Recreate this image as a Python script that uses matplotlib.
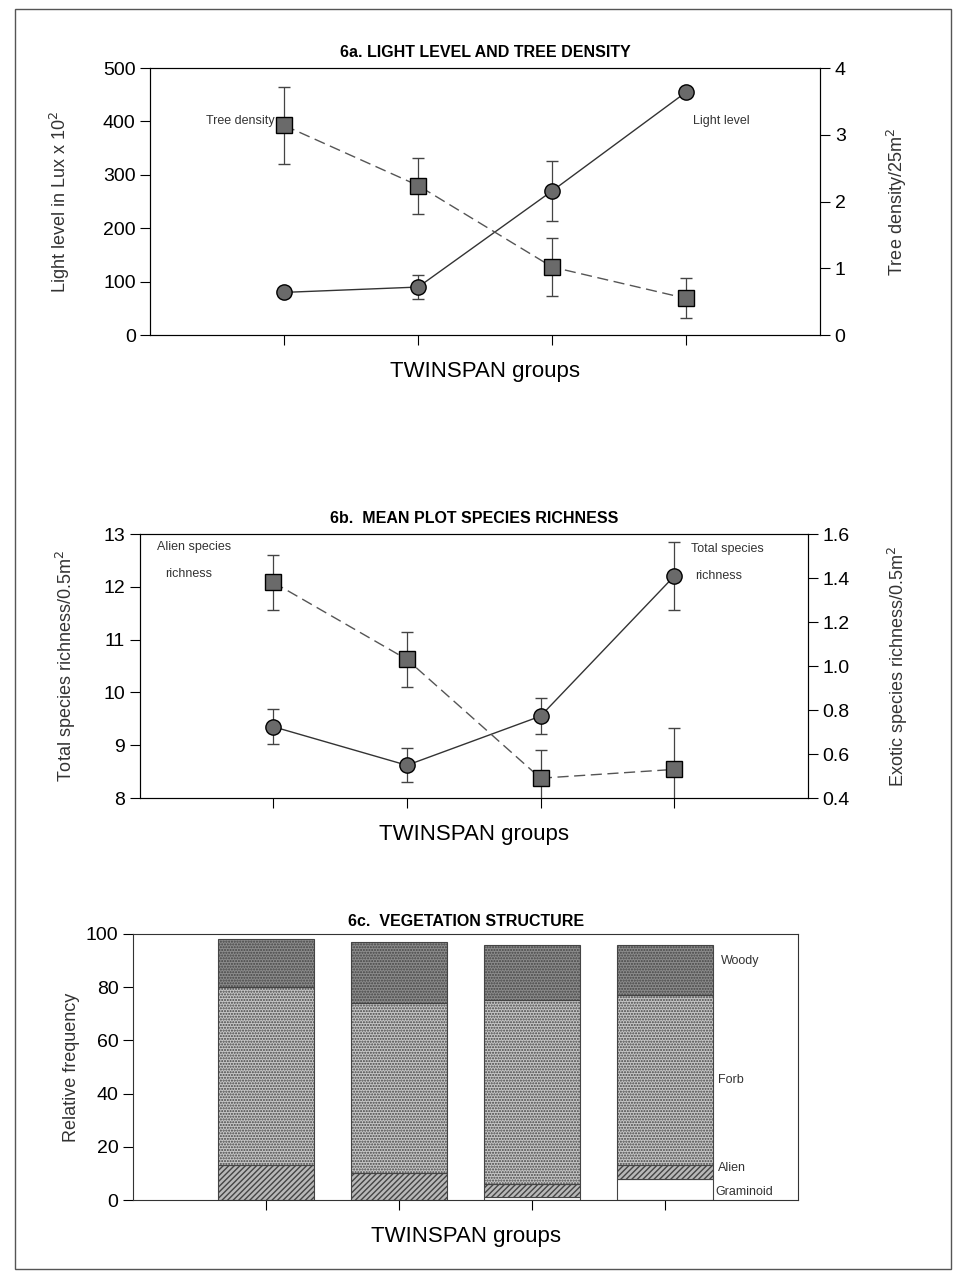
import matplotlib
matplotlib.use("Agg")
import matplotlib.pyplot as plt
from matplotlib.patches import Rectangle

plt.rcParams['font.family'] = ['Liberation Sans', 'DejaVu Sans']
plt.rcParams['hatch.color'] = '#777777'

# data
groups = [1, 2, 3, 4]

light_level = [80, 90, 270, 455]
light_err = [0, 23, 56, 0]
tree_density = [3.14, 2.24, 1.02, 0.55]
tree_err = [0.58, 0.42, 0.44, 0.30]

total_rich = [9.35, 8.62, 9.55, 12.2]
total_err = [0.33, 0.32, 0.34, 0.64]
alien_rich = [1.38, 1.03, 0.49, 0.53]
alien_err = [0.125, 0.125, 0.13, 0.19]

graminoid = [0, 0, 1, 8]
alien = [13, 10, 5, 5]
forb = [67, 64, 69, 64]
woody = [18, 23, 21, 19]
layer_names = ["Graminoid", "Alien", "Forb", "Woody"]

W, H = 957, 1284
fig = plt.figure(figsize=(W / 100, H / 100), dpi=100)
fig.patches.append(Rectangle((0.016, 0.012), 0.978, 0.981, transform=fig.transFigure,
                             fill=False, lw=1.0, ec='#555555'))

tick_kw = dict(direction='out', length=7, width=0.8, labelsize=14, colors='black')


def setup(ax):
    ax.set_xlim(0, 5)
    ax.set_xticks(groups)
    ax.set_xticklabels([])
    ax.tick_params(axis='both', **tick_kw)
    ax.set_xlabel("TWINSPAN groups", fontsize=16, labelpad=8)
    for s in ax.spines.values():
        s.set_linewidth(0.8)
        s.set_color('#333333')


marker_kw = dict(ms=11, mfc='#6a6a6a', mec='black', mew=1.0, ecolor='#444444',
                 elinewidth=0.9, capsize=4, capthick=0.9)

# ---- 6a
ax1 = fig.add_axes([0.157, 0.739, 0.700, 0.208])
setup(ax1)
ax1.set_ylim(0, 500)
ax1.set_yticks(range(0, 501, 100))
ax1.set_ylabel("Light level in Lux x 10$^2$", fontsize=13, color='#333333', labelpad=22)
ax1.set_title("6a. LIGHT LEVEL AND TREE DENSITY", fontsize=11.5, fontweight='bold', pad=8)
ax1.errorbar(groups, light_level, yerr=light_err, fmt='-o', color='#333333', lw=1.0,
             zorder=3, **marker_kw)
ax1b = ax1.twinx()
ax1b.set_ylim(0, 4)
ax1b.set_yticks(range(0, 5))
ax1b.tick_params(axis='y', **tick_kw)
ax1b.set_ylabel("Tree density/25m$^2$", fontsize=13, color='#333333', labelpad=28)
ax1b.errorbar(groups, tree_density, yerr=tree_err, fmt='--s', color='#555555', lw=1.0,
              dashes=(8, 4), zorder=3, **marker_kw)
ax1.text(0.93, 400, "Tree density", fontsize=9, ha='right', va='center', color='#333333')
ax1.text(4.05, 400, "Light level", fontsize=9, ha='left', va='center', color='#333333')

# ---- 6b
ax2 = fig.add_axes([0.146, 0.3785, 0.698, 0.2056])
setup(ax2)
ax2.set_ylim(8, 13)
ax2.set_yticks(range(8, 14))
ax2.set_ylabel("Total species richness/0.5m$^2$", fontsize=13, color='#333333', labelpad=18)
ax2.set_title("6b.  MEAN PLOT SPECIES RICHNESS", fontsize=11.5, fontweight='bold', pad=8)
ax2.errorbar(groups, total_rich, yerr=total_err, fmt='-o', color='#333333', lw=1.0,
             zorder=3, **marker_kw)
ax2b = ax2.twinx()
ax2b.set_ylim(0.4, 1.6)
ax2b.set_yticks([0.4, 0.6, 0.8, 1.0, 1.2, 1.4, 1.6])
ax2b.set_yticklabels(["0.4", "0.6", "0.8", "1.0", "1.2", "1.4", "1.6"])
ax2b.tick_params(axis='y', **tick_kw)
ax2b.set_ylabel("Exotic species richness/0.5m$^2$", fontsize=13, color='#333333', labelpad=26)
ax2b.errorbar(groups, alien_rich, yerr=alien_err, fmt='--s', color='#555555', lw=1.0,
              dashes=(8, 4), zorder=3, **marker_kw)
ax2b.text(0.13, 1.54, "Alien species", fontsize=9, ha='left', va='center', color='#333333')
ax2b.text(0.19, 1.42, "richness", fontsize=9, ha='left', va='center', color='#333333')
ax2b.text(4.13, 1.53, "Total species", fontsize=9, ha='left', va='center', color='#333333')
ax2b.text(4.16, 1.41, "richness", fontsize=9, ha='left', va='center', color='#333333')

# ---- 6c
ax3 = fig.add_axes([0.139, 0.0654, 0.695, 0.2072])
setup(ax3)
ax3.set_ylim(0, 100)
ax3.set_yticks(range(0, 101, 20))
ax3.set_ylabel("Relative frequency", fontsize=13, color='#333333')
ax3.set_title("6c.  VEGETATION STRUCTURE", fontsize=11.5, fontweight='bold', pad=6)
layers = [graminoid, alien, forb, woody]
faces = ['white', '#b8b8b8', '#c6c6c6', '#8c8c8c']
hatches = [None, '//////', '......', '......']
bottom = [0, 0, 0, 0]
for vals, fc, ht, name in zip(layers, faces, hatches, layer_names):
    ax3.bar(groups, vals, width=0.72, bottom=bottom, color=fc, hatch=ht,
            edgecolor='#444444', linewidth=0.8, label=name)
    bottom = [b + v for b, v in zip(bottom, vals)]
ax3.text(4.42, 90, "Woody", fontsize=9, ha='left', va='center', color='#333333')
ax3.text(4.40, 45, "Forb", fontsize=9, ha='left', va='center', color='#333333')
ax3.text(4.40, 12, "Alien", fontsize=9, ha='left', va='center', color='#333333')
ax3.text(4.38, 3, "Graminoid", fontsize=9, ha='left', va='center', color='#333333')

fig.savefig("out.png", dpi=100)
